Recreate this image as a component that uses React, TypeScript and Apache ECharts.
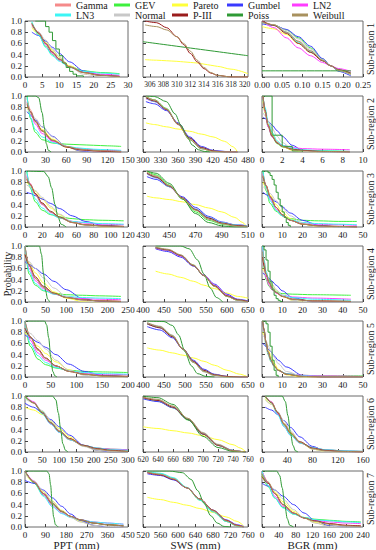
import React, { useEffect, useRef } from "react";
import * as echarts from "echarts";

const FONT = "Liberation Serif, serif";

const DIST = ["Gamma", "GEV", "Pareto", "Gumbel", "LN2", "LN3", "Normal", "P-III", "Poiss", "Weibull"];
const COLORS = ["#f58a8a", "#3ef03e", "#ffff3a", "#3a3aff", "#ff3cff", "#3cf5f5", "#c8c8c8", "#9a1c1c", "#2f9a35", "#a8915e"];
// order of the continuous curves stored in the Y tables below
const CURVES = ["Gamma", "GEV", "Pareto", "Gumbel", "LN2", "LN3", "Normal", "P-III", "Weibull"];

const ROW_LABELS = ["Sub-region 1", "Sub-region 2", "Sub-region 3", "Sub-region 4", "Sub-region 5", "Sub-region 6", "Sub-region 7"];
const COL_NAMES = ["PPT (mm)", "SWS (mm)", "BGR (mm)"];

// ---------- x axis ranges and tick labels (row-major, 21 panels) ----------
const xRanges = [
  [0, 30], [305, 320.5], [0, 0.25],
  [0, 150], [300, 480], [0, 10],
  [0, 120], [430, 510], [0, 50],
  [0, 250], [400, 650], [0, 50],
  [0, 200], [400, 650], [0, 50],
  [0, 300], [620, 760], [0, 160],
  [0, 450], [520, 760], [0, 240],
];
const xTicks = [
  [0, 5, 10, 15, 20, 25, 30], [306, 308, 310, 312, 314, 316, 318, 320], [0, 0.05, 0.1, 0.15, 0.2, 0.25],
  [0, 30, 60, 90, 120, 150], [300, 330, 360, 390, 420, 450, 480], [0, 2, 4, 6, 8, 10],
  [0, 20, 40, 60, 80, 100, 120], [430, 450, 470, 490, 510], [0, 10, 20, 30, 40, 50],
  [0, 50, 100, 150, 200, 250], [400, 450, 500, 550, 600, 650], [0, 10, 20, 30, 40, 50],
  [0, 50, 100, 150, 200], [400, 450, 500, 550, 600, 650], [0, 10, 20, 30, 40, 50],
  [0, 50, 100, 150, 200, 250, 300], [620, 640, 660, 680, 700, 720, 740, 760], [0, 40, 80, 120, 160],
  [0, 90, 180, 270, 360, 450], [520, 560, 600, 640, 680, 720, 760], [0, 40, 80, 120, 160, 200, 240],
];

// ---------- Row 1 ----------
const p11X = [2, 4, 6, 8, 10, 13, 17, 22, 27.5];
const p11Y = [
  [0.92, 0.78, 0.6, 0.45, 0.32, 0.18, 0.08, 0.03, 0.01],
  [0.97, 0.75, 0.55, 0.4, 0.3, 0.19, 0.11, 0.08, 0.06],
  [0.88, 0.76, 0.62, 0.48, 0.35, 0.2, 0.08, 0.02, 0.0],
  [0.8, 0.74, 0.64, 0.53, 0.42, 0.27, 0.11, 0.03, 0.01],
  [0.95, 0.8, 0.58, 0.42, 0.3, 0.18, 0.09, 0.05, 0.03],
  [0.99, 0.75, 0.53, 0.38, 0.28, 0.17, 0.1, 0.07, 0.05],
  [0.9, 0.8, 0.66, 0.5, 0.36, 0.18, 0.05, 0.01, 0.0],
  [0.95, 0.78, 0.6, 0.44, 0.32, 0.18, 0.08, 0.03, 0.01],
  [0.96, 0.79, 0.6, 0.45, 0.32, 0.18, 0.08, 0.03, 0.01],
];
const p11PX = [3, 6, 7, 8, 9, 10, 11, 12, 13, 14, 15, 17];
const p11PY = [1.0, 0.9, 0.8, 0.65, 0.5, 0.38, 0.25, 0.17, 0.1, 0.05, 0.02, 0.0];

const p12X = [305.3, 307, 308.5, 310, 311, 312, 313, 314, 315, 316, 318, 320.5];
const p12Y = [
  null, null,
  [0.31, 0.3, 0.29, 0.28, 0.27, 0.26, 0.25, 0.23, 0.21, 0.19, 0.14, 0.06],
  null, null, null, null,
  [1.0, 0.97, 0.88, 0.72, 0.58, 0.42, 0.27, 0.15, 0.07, 0.03, 0.0, 0.0],
  [0.93, 0.9, 0.84, 0.72, 0.6, 0.46, 0.3, 0.17, 0.08, 0.03, 0.0, 0.0],
];
const p12PX = [305, 320.5];
const p12PY = [0.63, 0.38];

const p13X = [0.0, 0.03, 0.06, 0.09, 0.12, 0.15, 0.17, 0.19, 0.22];
const p13Y = [
  [1.0, 0.93, 0.8, 0.63, 0.46, 0.3, 0.2, 0.12, 0.06],
  [0.97, 0.93, 0.84, 0.7, 0.52, 0.32, 0.2, 0.11, 0.04],
  [0.9, 0.86, 0.76, 0.6, 0.44, 0.29, 0.2, 0.13, 0.07],
  [0.95, 0.92, 0.85, 0.72, 0.55, 0.33, 0.2, 0.1, 0.02],
  [1.0, 0.88, 0.7, 0.52, 0.38, 0.26, 0.2, 0.15, 0.1],
  [0.99, 0.92, 0.8, 0.62, 0.45, 0.29, 0.2, 0.13, 0.07],
  [0.97, 0.93, 0.83, 0.68, 0.5, 0.31, 0.2, 0.11, 0.04],
  [1.0, 0.92, 0.78, 0.6, 0.44, 0.29, 0.2, 0.13, 0.07],
  [0.98, 0.93, 0.8, 0.64, 0.47, 0.3, 0.2, 0.12, 0.05],
];
const p13PX = [0.0, 0.22];
const p13PY = [0.11, 0.11];

// ---------- Row 2 ----------
const p21X = [3, 8, 15, 25, 40, 60, 80, 100, 120, 140];
const p21Y = [
  [0.95, 0.75, 0.55, 0.37, 0.2, 0.09, 0.04, 0.02, 0.01, 0.0],
  [1.0, 0.6, 0.35, 0.22, 0.16, 0.14, 0.13, 0.12, 0.11, 0.1],
  [0.8, 0.68, 0.55, 0.4, 0.23, 0.09, 0.02, 0.0, 0.0, 0.0],
  [0.72, 0.66, 0.57, 0.45, 0.28, 0.1, 0.02, 0.0, 0.0, 0.0],
  [0.9, 0.7, 0.5, 0.33, 0.19, 0.1, 0.06, 0.04, 0.03, 0.02],
  [0.98, 0.62, 0.4, 0.27, 0.17, 0.1, 0.07, 0.05, 0.04, 0.03],
  [0.78, 0.72, 0.6, 0.45, 0.27, 0.1, 0.03, 0.01, 0.0, 0.0],
  [0.85, 0.72, 0.55, 0.38, 0.21, 0.09, 0.04, 0.02, 0.01, 0.0],
  [0.88, 0.72, 0.54, 0.37, 0.21, 0.1, 0.05, 0.03, 0.02, 0.01],
];
const p21PX = [3, 15, 20, 25, 28, 31, 34, 38];
const p21PY = [1.0, 1.0, 0.97, 0.7, 0.45, 0.15, 0.03, 0.0];

const p22X = [305, 320, 340, 360, 380, 400, 420, 440, 455, 462];
const p22Y = [
  [0.96, 0.9, 0.75, 0.5, 0.25, 0.08, 0.02, 0.0, 0.0, 0.0],
  [0.98, 0.93, 0.78, 0.5, 0.22, 0.06, 0.01, 0.0, 0.0, 0.0],
  [0.52, 0.49, 0.45, 0.41, 0.37, 0.32, 0.27, 0.19, 0.09, 0.0],
  [0.9, 0.86, 0.74, 0.52, 0.27, 0.1, 0.03, 0.01, 0.0, 0.0],
  [0.95, 0.9, 0.76, 0.5, 0.25, 0.08, 0.02, 0.0, 0.0, 0.0],
  [0.96, 0.9, 0.76, 0.5, 0.25, 0.08, 0.02, 0.0, 0.0, 0.0],
  [0.98, 0.92, 0.77, 0.5, 0.23, 0.06, 0.01, 0.0, 0.0, 0.0],
  [0.97, 0.91, 0.76, 0.5, 0.25, 0.08, 0.02, 0.0, 0.0, 0.0],
  [0.99, 0.93, 0.77, 0.49, 0.22, 0.06, 0.01, 0.0, 0.0, 0.0],
];
const p22PX = [305, 320, 340, 355, 365, 375, 385, 395, 405, 415];
const p22PY = [1.0, 0.99, 0.9, 0.68, 0.48, 0.28, 0.12, 0.04, 0.01, 0.0];

const p23X = [0.1, 0.3, 0.6, 1.0, 1.5, 2, 3, 4, 6, 8.7];
const p23Y = [
  [1.0, 0.75, 0.5, 0.3, 0.17, 0.1, 0.04, 0.02, 0.01, 0.0],
  [0.95, 0.7, 0.45, 0.27, 0.15, 0.09, 0.05, 0.03, 0.02, 0.01],
  [0.9, 0.7, 0.5, 0.32, 0.18, 0.1, 0.03, 0.01, 0.0, 0.0],
  [0.62, 0.6, 0.55, 0.48, 0.38, 0.28, 0.12, 0.03, 0.0, 0.0],
  [1.0, 0.72, 0.45, 0.27, 0.17, 0.12, 0.08, 0.06, 0.05, 0.04],
  [1.0, 0.8, 0.55, 0.35, 0.2, 0.12, 0.07, 0.04, 0.02, 0.01],
  [0.7, 0.65, 0.55, 0.42, 0.28, 0.17, 0.05, 0.01, 0.0, 0.0],
  [1.0, 0.75, 0.48, 0.28, 0.16, 0.1, 0.05, 0.03, 0.01, 0.0],
  [1.0, 0.74, 0.48, 0.29, 0.17, 0.1, 0.04, 0.02, 0.01, 0.0],
];
const p23PX = [0, 1, 2, 3, 4];
const p23PY = [1.0, 0.3, 0.1, 0.02, 0.0];

// ---------- Row 3 ----------
const p31X = [2, 6, 12, 20, 30, 40, 55, 70, 90, 115];
const p31Y = [
  [0.9, 0.78, 0.6, 0.42, 0.27, 0.17, 0.08, 0.04, 0.02, 0.01],
  [1.0, 0.7, 0.45, 0.3, 0.22, 0.18, 0.15, 0.13, 0.12, 0.11],
  [0.8, 0.74, 0.64, 0.5, 0.34, 0.22, 0.09, 0.03, 0.0, 0.0],
  [0.62, 0.6, 0.56, 0.5, 0.42, 0.33, 0.2, 0.1, 0.03, 0.0],
  [0.92, 0.77, 0.58, 0.4, 0.26, 0.17, 0.1, 0.07, 0.05, 0.04],
  [1.0, 0.72, 0.5, 0.34, 0.23, 0.16, 0.1, 0.08, 0.06, 0.05],
  [0.75, 0.72, 0.65, 0.53, 0.37, 0.23, 0.09, 0.03, 0.0, 0.0],
  [0.85, 0.76, 0.6, 0.43, 0.28, 0.18, 0.08, 0.04, 0.02, 0.01],
  [0.88, 0.76, 0.58, 0.41, 0.27, 0.17, 0.08, 0.04, 0.02, 0.01],
];
const p31PX = [2, 22, 27, 31, 35, 38, 42, 48];
const p31PY = [1.0, 0.99, 0.9, 0.7, 0.4, 0.2, 0.05, 0.0];

const p32X = [433, 440, 450, 460, 470, 480, 490, 500, 506, 509];
const p32Y = [
  [0.95, 0.88, 0.72, 0.52, 0.32, 0.17, 0.08, 0.04, 0.03, 0.02],
  [1.0, 0.93, 0.75, 0.5, 0.27, 0.12, 0.05, 0.02, 0.01, 0.01],
  [0.55, 0.52, 0.49, 0.45, 0.4, 0.34, 0.27, 0.17, 0.08, 0.0],
  [0.9, 0.85, 0.72, 0.54, 0.35, 0.19, 0.09, 0.04, 0.03, 0.02],
  [0.95, 0.88, 0.72, 0.52, 0.32, 0.17, 0.08, 0.04, 0.03, 0.02],
  [0.95, 0.88, 0.72, 0.52, 0.32, 0.17, 0.08, 0.04, 0.03, 0.02],
  [0.97, 0.9, 0.74, 0.52, 0.3, 0.14, 0.06, 0.02, 0.01, 0.01],
  [0.96, 0.89, 0.73, 0.52, 0.31, 0.16, 0.07, 0.03, 0.02, 0.01],
  [0.98, 0.91, 0.74, 0.51, 0.3, 0.14, 0.06, 0.02, 0.01, 0.01],
];
const p32PX = [433, 440, 450, 460, 470, 480, 490, 500, 509];
const p32PY = [1.0, 0.96, 0.78, 0.5, 0.24, 0.08, 0.02, 0.0, 0.0];

const p33X = [0.5, 2, 4, 7, 10, 14, 20, 28, 38, 47];
const p33Y = [
  [0.95, 0.75, 0.55, 0.35, 0.22, 0.12, 0.05, 0.02, 0.01, 0.0],
  [1.0, 0.65, 0.42, 0.28, 0.2, 0.15, 0.12, 0.11, 0.1, 0.1],
  [0.8, 0.7, 0.57, 0.4, 0.27, 0.15, 0.05, 0.01, 0.0, 0.0],
  [0.62, 0.58, 0.52, 0.45, 0.36, 0.25, 0.12, 0.03, 0.0, 0.0],
  [0.95, 0.72, 0.5, 0.32, 0.2, 0.12, 0.07, 0.05, 0.04, 0.03],
  [1.0, 0.7, 0.47, 0.3, 0.2, 0.13, 0.08, 0.06, 0.05, 0.04],
  [0.72, 0.68, 0.6, 0.47, 0.34, 0.2, 0.07, 0.01, 0.0, 0.0],
  [0.9, 0.74, 0.54, 0.35, 0.22, 0.12, 0.05, 0.02, 0.01, 0.0],
  [0.92, 0.74, 0.54, 0.35, 0.22, 0.12, 0.05, 0.02, 0.01, 0.0],
];
const p33PX = [0, 3, 4, 5, 6, 7, 8, 9, 10, 11, 12, 13, 14];
const p33PY = [1.0, 0.97, 0.92, 0.85, 0.75, 0.62, 0.5, 0.38, 0.27, 0.17, 0.08, 0.03, 0.0];

// ---------- Row 4 ----------
const p41X = [0, 10, 25, 45, 70, 100, 140, 180, 233];
const p41Y = [
  [1.0, 0.65, 0.42, 0.26, 0.15, 0.08, 0.04, 0.02, 0.01],
  [1.0, 0.5, 0.3, 0.2, 0.16, 0.13, 0.12, 0.11, 0.1],
  [0.85, 0.7, 0.52, 0.34, 0.18, 0.07, 0.01, 0.0, 0.0],
  [0.72, 0.67, 0.6, 0.5, 0.37, 0.22, 0.06, 0.01, 0.0],
  [1.0, 0.6, 0.38, 0.24, 0.14, 0.09, 0.06, 0.05, 0.04],
  [1.0, 0.55, 0.33, 0.21, 0.14, 0.1, 0.08, 0.07, 0.06],
  [0.8, 0.72, 0.6, 0.43, 0.25, 0.1, 0.02, 0.0, 0.0],
  [0.85, 0.66, 0.45, 0.28, 0.16, 0.08, 0.04, 0.02, 0.01],
  [1.0, 0.65, 0.42, 0.26, 0.15, 0.08, 0.04, 0.02, 0.01],
];
const p41PX = [2, 35, 40, 45, 50, 55, 60];
const p41PY = [1.0, 1.0, 0.85, 0.5, 0.2, 0.05, 0.0];

const p42X = [430, 460, 490, 520, 545, 570, 600, 625, 650];
const p42Y = [
  [0.96, 0.92, 0.82, 0.65, 0.48, 0.3, 0.12, 0.04, 0.01],
  [0.96, 0.92, 0.83, 0.66, 0.47, 0.28, 0.1, 0.03, 0.01],
  [0.55, 0.5, 0.44, 0.37, 0.3, 0.24, 0.16, 0.1, 0.07],
  [0.95, 0.9, 0.8, 0.64, 0.48, 0.32, 0.14, 0.05, 0.02],
  [0.96, 0.92, 0.82, 0.65, 0.48, 0.3, 0.12, 0.04, 0.01],
  [0.97, 0.93, 0.83, 0.65, 0.47, 0.29, 0.11, 0.04, 0.01],
  [0.98, 0.94, 0.84, 0.66, 0.47, 0.28, 0.1, 0.03, 0.0],
  [0.97, 0.93, 0.83, 0.65, 0.47, 0.29, 0.11, 0.04, 0.01],
  [0.98, 0.94, 0.84, 0.66, 0.47, 0.28, 0.1, 0.03, 0.0],
];
const p42PX = [430, 490, 510, 530, 545, 560, 575, 590];
const p42PY = [1.0, 1.0, 0.95, 0.75, 0.5, 0.25, 0.08, 0.0];

const p43X = [0.3, 1, 2, 3.5, 5, 7, 10, 15, 25, 44];
const p43Y = [
  [1.0, 0.75, 0.52, 0.35, 0.25, 0.17, 0.1, 0.05, 0.02, 0.0],
  [1.0, 0.6, 0.4, 0.28, 0.22, 0.18, 0.15, 0.14, 0.13, 0.12],
  [0.6, 0.56, 0.48, 0.38, 0.3, 0.2, 0.1, 0.03, 0.0, 0.0],
  [0.52, 0.5, 0.47, 0.42, 0.37, 0.3, 0.2, 0.08, 0.0, 0.0],
  [1.0, 0.65, 0.43, 0.3, 0.22, 0.16, 0.12, 0.09, 0.07, 0.05],
  [1.0, 0.75, 0.55, 0.38, 0.27, 0.18, 0.12, 0.08, 0.05, 0.03],
  [0.55, 0.53, 0.48, 0.4, 0.32, 0.22, 0.12, 0.03, 0.0, 0.0],
  [0.8, 0.65, 0.5, 0.35, 0.25, 0.17, 0.1, 0.05, 0.02, 0.01],
  [0.9, 0.7, 0.5, 0.35, 0.25, 0.17, 0.1, 0.05, 0.02, 0.01],
];
const p43PX = [0, 1, 2, 3, 4, 5, 6, 7, 8, 9, 10];
const p43PY = [1.0, 0.93, 0.75, 0.55, 0.36, 0.22, 0.12, 0.06, 0.03, 0.01, 0.0];

// ---------- Row 5 ----------
const p51X = [0, 10, 25, 40, 60, 85, 115, 150, 200];
const p51Y = [
  [1.0, 0.72, 0.48, 0.33, 0.2, 0.1, 0.05, 0.02, 0.01],
  [1.0, 0.55, 0.32, 0.22, 0.16, 0.12, 0.1, 0.09, 0.08],
  [0.8, 0.7, 0.55, 0.42, 0.27, 0.13, 0.04, 0.01, 0.0],
  [0.75, 0.7, 0.62, 0.53, 0.4, 0.23, 0.1, 0.03, 0.0],
  [1.0, 0.66, 0.43, 0.3, 0.19, 0.11, 0.07, 0.05, 0.04],
  [1.0, 0.6, 0.38, 0.26, 0.17, 0.11, 0.08, 0.06, 0.05],
  [0.85, 0.78, 0.65, 0.5, 0.3, 0.12, 0.03, 0.0, 0.0],
  [0.87, 0.72, 0.5, 0.34, 0.2, 0.1, 0.05, 0.02, 0.01],
  [1.0, 0.72, 0.48, 0.33, 0.2, 0.1, 0.05, 0.02, 0.01],
];
const p51PX = [3, 38, 42, 46, 50, 54, 58, 62];
const p51PY = [1.0, 1.0, 0.93, 0.7, 0.35, 0.1, 0.02, 0.0];

const p52X = [410, 440, 470, 495, 520, 545, 570, 600, 630, 650];
const p52Y = [
  [0.95, 0.88, 0.72, 0.5, 0.28, 0.12, 0.04, 0.01, 0.0, 0.0],
  [0.95, 0.9, 0.74, 0.5, 0.26, 0.1, 0.03, 0.0, 0.0, 0.0],
  [0.52, 0.48, 0.43, 0.39, 0.34, 0.28, 0.21, 0.12, 0.05, 0.0],
  [0.9, 0.84, 0.7, 0.5, 0.3, 0.14, 0.05, 0.01, 0.0, 0.0],
  [0.95, 0.88, 0.72, 0.5, 0.28, 0.12, 0.04, 0.01, 0.0, 0.0],
  [0.95, 0.88, 0.72, 0.5, 0.28, 0.12, 0.04, 0.01, 0.0, 0.0],
  [0.97, 0.91, 0.75, 0.5, 0.26, 0.09, 0.02, 0.0, 0.0, 0.0],
  [0.95, 0.88, 0.72, 0.5, 0.28, 0.12, 0.04, 0.01, 0.0, 0.0],
  [0.97, 0.9, 0.74, 0.5, 0.26, 0.1, 0.03, 0.0, 0.0, 0.0],
];
const p52PX = [410, 450, 470, 485, 500, 515, 530, 550, 570];
const p52PY = [1.0, 0.99, 0.92, 0.75, 0.45, 0.2, 0.06, 0.01, 0.0];

const p53X = [0.3, 1, 2, 3, 4.5, 6, 8, 12, 20, 30, 50];
const p53Y = [
  [1.0, 0.85, 0.62, 0.45, 0.3, 0.2, 0.12, 0.05, 0.01, 0.0, 0.0],
  [1.0, 0.8, 0.55, 0.4, 0.27, 0.19, 0.12, 0.06, 0.03, 0.02, 0.02],
  [0.8, 0.75, 0.63, 0.5, 0.36, 0.25, 0.14, 0.04, 0.0, 0.0, 0.0],
  [0.6, 0.58, 0.54, 0.5, 0.45, 0.38, 0.3, 0.18, 0.03, 0.0, 0.0],
  [1.0, 0.82, 0.58, 0.42, 0.28, 0.19, 0.12, 0.06, 0.03, 0.02, 0.01],
  [1.0, 0.85, 0.6, 0.43, 0.28, 0.19, 0.12, 0.06, 0.02, 0.01, 0.0],
  [0.75, 0.72, 0.65, 0.56, 0.45, 0.35, 0.24, 0.1, 0.01, 0.0, 0.0],
  [1.0, 0.85, 0.62, 0.45, 0.3, 0.2, 0.12, 0.05, 0.01, 0.0, 0.0],
  [1.0, 0.86, 0.63, 0.45, 0.3, 0.2, 0.12, 0.05, 0.01, 0.0, 0.0],
];
const p53PX = [0, 2, 3, 4, 5, 6, 7, 8];
const p53PY = [1.0, 0.95, 0.8, 0.55, 0.3, 0.12, 0.03, 0.0];

// ---------- Row 6 ----------
const p61X = [0, 25, 50, 75, 100, 130, 170, 210, 250, 300];
const p61Y = [
  [1.0, 0.87, 0.7, 0.52, 0.37, 0.24, 0.12, 0.06, 0.03, 0.01],
  [0.98, 0.88, 0.72, 0.53, 0.36, 0.22, 0.12, 0.07, 0.05, 0.04],
  [0.8, 0.75, 0.67, 0.56, 0.42, 0.27, 0.11, 0.03, 0.0, 0.0],
  [0.87, 0.8, 0.7, 0.58, 0.45, 0.3, 0.12, 0.03, 0.0, 0.0],
  [1.0, 0.9, 0.7, 0.5, 0.35, 0.22, 0.12, 0.07, 0.05, 0.04],
  [1.0, 0.88, 0.68, 0.5, 0.35, 0.22, 0.12, 0.07, 0.04, 0.03],
  [0.95, 0.88, 0.74, 0.56, 0.39, 0.23, 0.1, 0.03, 0.01, 0.0],
  [1.0, 0.88, 0.7, 0.52, 0.37, 0.24, 0.12, 0.06, 0.03, 0.01],
  [1.0, 0.88, 0.71, 0.53, 0.37, 0.23, 0.11, 0.05, 0.02, 0.01],
];
const p61PX = [0, 80, 90, 97, 104, 110, 118, 125];
const p61PY = [1.0, 1.0, 0.93, 0.7, 0.4, 0.15, 0.03, 0.0];

const p62X = [620, 640, 660, 680, 700, 720, 740, 750, 757];
const p62Y = [
  [0.97, 0.92, 0.8, 0.58, 0.32, 0.12, 0.02, 0.01, 0.0],
  [0.96, 0.91, 0.79, 0.57, 0.32, 0.12, 0.03, 0.01, 0.0],
  [0.45, 0.42, 0.38, 0.34, 0.29, 0.22, 0.13, 0.07, 0.0],
  [0.95, 0.9, 0.79, 0.58, 0.33, 0.13, 0.03, 0.01, 0.0],
  [0.97, 0.92, 0.8, 0.58, 0.32, 0.12, 0.02, 0.01, 0.0],
  [0.97, 0.92, 0.8, 0.58, 0.32, 0.12, 0.02, 0.01, 0.0],
  [0.97, 0.93, 0.81, 0.6, 0.35, 0.14, 0.03, 0.01, 0.0],
  [0.97, 0.92, 0.8, 0.58, 0.32, 0.12, 0.02, 0.01, 0.0],
  [0.98, 0.94, 0.82, 0.6, 0.34, 0.13, 0.02, 0.01, 0.0],
];
const p62PX = [620, 640, 660, 680, 700, 720, 740, 757];
const p62PY = [1.0, 0.97, 0.85, 0.58, 0.28, 0.08, 0.01, 0.0];

const p63X = [5, 15, 25, 35, 45, 60, 80, 100, 130, 160];
const p63Y = [
  [1.0, 0.88, 0.7, 0.5, 0.34, 0.18, 0.07, 0.03, 0.01, 0.0],
  [0.98, 0.88, 0.7, 0.48, 0.32, 0.17, 0.08, 0.04, 0.02, 0.01],
  [0.95, 0.85, 0.68, 0.5, 0.35, 0.18, 0.05, 0.01, 0.0, 0.0],
  [0.8, 0.75, 0.67, 0.56, 0.44, 0.27, 0.1, 0.02, 0.0, 0.0],
  [1.0, 0.9, 0.68, 0.46, 0.3, 0.16, 0.08, 0.04, 0.02, 0.01],
  [1.0, 0.88, 0.66, 0.45, 0.3, 0.16, 0.08, 0.04, 0.02, 0.01],
  [0.93, 0.85, 0.72, 0.55, 0.38, 0.19, 0.05, 0.01, 0.0, 0.0],
  [1.0, 0.88, 0.7, 0.5, 0.34, 0.18, 0.07, 0.03, 0.01, 0.0],
  [1.0, 0.89, 0.71, 0.5, 0.34, 0.17, 0.06, 0.02, 0.01, 0.0],
];
const p63PX = [5, 32, 37, 41, 45, 49, 53, 57];
const p63PY = [1.0, 1.0, 0.9, 0.65, 0.35, 0.12, 0.02, 0.0];

// ---------- Row 7 ----------
const p71X = [0, 40, 80, 120, 160, 200, 240, 300, 360, 430];
const p71Y = [
  [1.0, 0.8, 0.6, 0.42, 0.28, 0.19, 0.13, 0.07, 0.04, 0.02],
  [1.0, 0.78, 0.57, 0.4, 0.27, 0.18, 0.12, 0.07, 0.04, 0.02],
  [0.95, 0.8, 0.63, 0.46, 0.3, 0.18, 0.1, 0.03, 0.0, 0.0],
  [0.83, 0.78, 0.66, 0.52, 0.37, 0.23, 0.12, 0.03, 0.0, 0.0],
  [1.0, 0.82, 0.58, 0.38, 0.25, 0.18, 0.13, 0.09, 0.07, 0.05],
  [1.0, 0.8, 0.55, 0.36, 0.24, 0.17, 0.13, 0.09, 0.07, 0.05],
  [0.95, 0.82, 0.64, 0.45, 0.29, 0.17, 0.09, 0.03, 0.01, 0.0],
  [1.0, 0.8, 0.6, 0.42, 0.28, 0.19, 0.13, 0.07, 0.04, 0.02],
  [1.0, 0.8, 0.6, 0.42, 0.28, 0.19, 0.13, 0.07, 0.04, 0.02],
];
const p71PX = [0, 95, 105, 112, 118, 125, 133, 145];
const p71PY = [1.0, 1.0, 0.95, 0.75, 0.45, 0.18, 0.04, 0.0];

const p72X = [530, 560, 590, 620, 650, 680, 710, 735, 750];
const p72Y = [
  [0.97, 0.93, 0.85, 0.7, 0.5, 0.3, 0.12, 0.03, 0.0],
  [0.98, 0.95, 0.87, 0.7, 0.48, 0.27, 0.1, 0.02, 0.0],
  [0.53, 0.49, 0.44, 0.39, 0.33, 0.26, 0.18, 0.1, 0.02],
  [0.95, 0.92, 0.84, 0.7, 0.5, 0.3, 0.13, 0.04, 0.01],
  [0.97, 0.94, 0.86, 0.7, 0.5, 0.29, 0.12, 0.03, 0.0],
  [0.99, 0.96, 0.88, 0.71, 0.48, 0.27, 0.1, 0.02, 0.0],
  [0.97, 0.94, 0.86, 0.7, 0.5, 0.3, 0.12, 0.03, 0.0],
  [0.97, 0.93, 0.85, 0.7, 0.5, 0.3, 0.12, 0.03, 0.0],
  [0.98, 0.94, 0.86, 0.7, 0.5, 0.29, 0.11, 0.02, 0.0],
];
const p72PX = [530, 580, 610, 630, 645, 660, 675, 690, 705, 720];
const p72PY = [1.0, 1.0, 0.97, 0.85, 0.65, 0.42, 0.2, 0.07, 0.01, 0.0];

const p73X = [0, 15, 30, 50, 75, 100, 125, 160, 200, 235];
const p73Y = [
  [1.0, 0.8, 0.6, 0.4, 0.25, 0.16, 0.11, 0.06, 0.03, 0.02],
  [0.95, 0.72, 0.52, 0.35, 0.23, 0.17, 0.14, 0.12, 0.1, 0.09],
  [0.9, 0.78, 0.63, 0.45, 0.28, 0.16, 0.08, 0.02, 0.0, 0.0],
  [0.78, 0.73, 0.66, 0.55, 0.4, 0.25, 0.12, 0.02, 0.0, 0.0],
  [1.0, 0.78, 0.55, 0.37, 0.24, 0.16, 0.12, 0.09, 0.07, 0.06],
  [1.0, 0.74, 0.52, 0.34, 0.23, 0.17, 0.13, 0.11, 0.09, 0.08],
  [0.85, 0.78, 0.67, 0.5, 0.31, 0.16, 0.07, 0.01, 0.0, 0.0],
  [0.9, 0.78, 0.6, 0.4, 0.25, 0.16, 0.11, 0.06, 0.03, 0.02],
  [0.95, 0.8, 0.6, 0.4, 0.25, 0.16, 0.1, 0.05, 0.02, 0.01],
];
const p73PX = [0, 35, 42, 48, 54, 60, 66, 75];
const p73PY = [1.0, 1.0, 0.92, 0.7, 0.4, 0.15, 0.03, 0.0];

const PANEL_X = [p11X, p12X, p13X, p21X, p22X, p23X, p31X, p32X, p33X, p41X, p42X, p43X, p51X, p52X, p53X, p61X, p62X, p63X, p71X, p72X, p73X];
const PANEL_Y = [p11Y, p12Y, p13Y, p21Y, p22Y, p23Y, p31Y, p32Y, p33Y, p41Y, p42Y, p43Y, p51Y, p52Y, p53Y, p61Y, p62Y, p63Y, p71Y, p72Y, p73Y];
const POISS_X = [p11PX, p12PX, p13PX, p21PX, p22PX, p23PX, p31PX, p32PX, p33PX, p41PX, p42PX, p43PX, p51PX, p52PX, p53PX, p61PX, p62PX, p63PX, p71PX, p72PX, p73PX];
const POISS_Y = [p11PY, p12PY, p13PY, p21PY, p22PY, p23PY, p31PY, p32PY, p33PY, p41PY, p42PY, p43PY, p51PY, p52PY, p53PY, p61PY, p62PY, p63PY, p71PY, p72PY, p73PY];
// panels in which the Poisson curve is drawn as a discrete staircase
const POISS_STEP = [0, 5, 8, 11, 14];

// ---------- layout ----------
const COL_LEFT = [25, 143, 262];
const COL_W = [103, 105, 101];
const ROW_TOP0 = 21;
const ROW_PITCH = 75;
const ROW_H = 56;

function buildOption() {
  const grid: any[] = [];
  const xAxis: any[] = [];
  const yAxis: any[] = [];
  const series: any[] = [];
  const txt = { fontFamily: FONT, color: "#1a1a1a" };

  for (let k = 0; k < 21; k++) {
    const r = Math.floor(k / 3);
    const c = k % 3;
    grid.push({
      left: COL_LEFT[c],
      top: ROW_TOP0 + r * ROW_PITCH,
      width: COL_W[c],
      height: ROW_H,
      show: true,
      borderColor: "#6a6a6a",
      borderWidth: 1,
      backgroundColor: "transparent",
    });
    const ticks = xTicks[k];
    const isDec = ticks[ticks.length - 1] < 1;
    const dense = ticks.length >= 8;
    xAxis.push({
      gridIndex: k,
      type: "value",
      min: xRanges[k][0],
      max: xRanges[k][1],
      axisLine: { show: false },
      splitLine: { show: false },
      axisTick: { show: true, inside: true, length: 3, customValues: ticks, lineStyle: { color: "#444" } },
      axisLabel: {
        show: true,
        customValues: ticks,
        showMinLabel: true,
        showMaxLabel: true,
        hideOverlap: false,
        margin: 3,
        fontSize: dense ? 7.5 : 9,
        ...txt,
        formatter: (v: number) => (isDec ? v.toFixed(2) : String(Math.round(v))),
      },
    });
    yAxis.push({
      gridIndex: k,
      type: "value",
      min: 0,
      max: 1,
      interval: 0.2,
      axisLine: { show: false },
      splitLine: { show: false },
      axisTick: { show: true, inside: true, length: 3, lineStyle: { color: "#444" } },
      axisLabel: {
        show: c === 0,
        margin: 3,
        fontSize: 9,
        ...txt,
        formatter: (v: number) => v.toFixed(1),
      },
    });

    for (let d = 0; d < DIST.length; d++) {
      const name = DIST[d];
      let data: number[][] = [];
      let step: any = false;
      if (name === "Poiss") {
        const xs = POISS_X[k];
        const ys = POISS_Y[k];
        data = xs.map((x, i) => [x, ys[i]]);
        if (POISS_STEP.includes(k)) step = "end";
      } else {
        const ys = (PANEL_Y[k] as any[])[CURVES.indexOf(name)];
        if (!ys) continue;
        const xs = PANEL_X[k];
        data = xs.map((x, i) => [x, ys[i]]);
      }
      series.push({
        name,
        type: "line",
        xAxisIndex: k,
        yAxisIndex: k,
        data,
        step,
        smooth: step ? false : 0.3,
        smoothMonotone: "x",
        showSymbol: false,
        symbol: "none",
        lineStyle: { width: 1, color: COLORS[d] },
        itemStyle: { color: COLORS[d] },
        emphasis: { disabled: true },
        z: 2,
      });
    }
  }

  const legendLeft = [55, 114, 172, 227, 292];
  const legend = DIST.map((name, i) => ({
    data: [name],
    left: legendLeft[i % 5],
    top: i < 5 ? 0 : 10,
    icon: "rect",
    itemWidth: 16,
    itemHeight: 3,
    itemGap: 0,
    padding: 0,
    textStyle: { fontFamily: FONT, fontSize: 10, color: "#1a1a1a" },
    selectedMode: false,
  }));

  const graphic: any[] = [];
  graphic.push({
    type: "text",
    x: 7,
    y: 274,
    rotation: Math.PI / 2,
    style: { text: "Probability", fontFamily: FONT, fontSize: 10, fill: "#1a1a1a", align: "center", verticalAlign: "middle" },
  });
  for (let r = 0; r < 7; r++) {
    graphic.push({
      type: "text",
      x: 370,
      y: ROW_TOP0 + r * ROW_PITCH + ROW_H / 2,
      rotation: Math.PI / 2,
      style: { text: ROW_LABELS[r], fontFamily: FONT, fontSize: 10, fill: "#1a1a1a", align: "center", verticalAlign: "middle" },
    });
  }
  for (let c = 0; c < 3; c++) {
    graphic.push({
      type: "text",
      x: COL_LEFT[c] + COL_W[c] / 2,
      y: 545,
      style: { text: COL_NAMES[c], fontFamily: FONT, fontSize: 11, fill: "#1a1a1a", align: "center", verticalAlign: "middle" },
    });
  }

  return {
    animation: false,
    backgroundColor: "#ffffff",
    textStyle: { fontFamily: FONT },
    grid,
    xAxis,
    yAxis,
    series,
    legend,
    graphic,
  };
}

export default function App() {
  const ref = useRef<HTMLDivElement>(null);
  useEffect(() => {
    if (!ref.current) return;
    const chart = echarts.init(ref.current, undefined, { renderer: "svg" });
    chart.setOption(buildOption() as any);
    return () => chart.dispose();
  }, []);
  return <div ref={ref} style={{ width: 376, height: 550, position: "absolute", left: 0, top: 0 }} />;
}
